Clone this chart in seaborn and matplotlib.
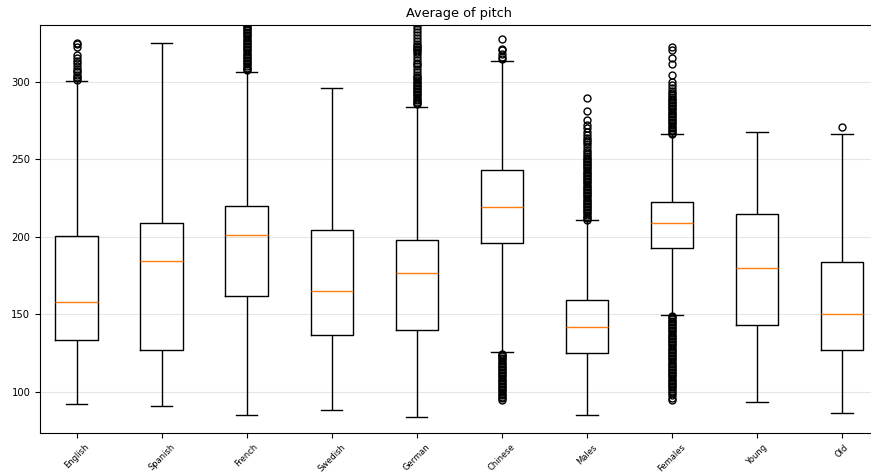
import numpy as np
import pandas as pd
import seaborn as sns
import matplotlib.pyplot as plt

# groups and box statistics
groups = ["English", "Spanish", "French", "Swedish", "German",
          "Chinese", "Males", "Females", "Young", "Old"]
whisker_lo = [92.1, 91.0, 84.9, 88.2, 83.7, 126.0, 84.9, 149.4, 93.4, 86.3]
q1 = [133.5, 127.0, 161.8, 136.7, 139.9, 196.0, 125.3, 193.0, 143.0, 126.8]
medians = [157.8, 184.5, 201.3, 165.2, 176.4, 219.1, 141.6, 208.6, 180.0, 150.5]
q3 = [200.4, 208.6, 219.6, 204.3, 197.9, 243.2, 159.5, 222.3, 214.6, 183.5]
whisker_hi = [300.2, 324.5, 306.0, 295.6, 283.7, 313.3, 210.5, 265.9, 267.6, 266.5]

# outliers (values beyond the whiskers)
english_out = [301, 302, 303, 304, 306, 307, 308, 310, 312, 313, 315, 317, 322, 324, 325]
spanish_out = []
french_out = [307.5, 308, 309, 310, 311, 312, 313, 314, 315, 316, 317, 318, 319,
              320, 321, 322, 323, 324, 325, 326, 327, 328, 329, 330, 331, 332,
              333, 334, 335, 336, 338, 340]
swedish_out = []
german_out = [285.5, 286, 287, 288, 289, 290, 291, 292, 293, 294, 295, 296, 297,
              298, 299, 300, 301, 302, 303, 304, 306, 308, 310, 311, 312, 314,
              316, 318, 319, 320, 321, 322, 323, 324, 326, 328, 330, 332, 334,
              336, 338]
chinese_out = [95, 96, 97, 98, 99, 100, 101, 102, 103, 104, 105, 106, 107, 108,
               109, 110, 111, 112, 113, 114, 115, 116, 117, 118, 119, 120, 121,
               122, 123, 124, 124.8,
               314.5, 316, 318, 320, 321, 327.5]
males_out = [211, 212, 213, 214, 215, 216, 217, 218, 219, 220, 221, 222, 223,
             224, 225, 226, 227, 228, 229, 230, 231, 232, 233, 234, 235, 236,
             237, 238, 239, 240, 241, 242, 243, 244, 245, 246, 247, 248, 249,
             250, 251, 252, 253, 254.7, 256, 258, 259.5, 261.2, 262.5, 263.6,
             265.5, 267.6, 269.8, 271.9, 275.1, 281, 289.1]
females_out = [94.7, 96, 98.3, 99.5, 100.5, 102, 103, 104, 105, 106, 107, 108,
               109, 110, 111, 112, 113, 114, 115, 116, 117, 118, 119, 120, 121,
               122, 123, 124, 125, 126, 127, 128, 129, 130, 131, 132, 133, 134,
               135, 136, 137, 138, 139, 140, 141, 142, 143, 144, 145, 146, 147,
               148, 148.8,
               266.5, 267, 268, 269, 270, 271, 272, 273, 274, 275, 276, 277, 278,
               279, 280, 281, 282, 283, 284, 285, 286, 287, 288, 289, 290, 291,
               292.3, 294, 295.5, 297.7, 299.8, 304.1, 311.2, 314.9, 320.5, 322.3]
young_out = []
old_out = [270.6]
outliers = [english_out, spanish_out, french_out, swedish_out, german_out,
            chinese_out, males_out, females_out, young_out, old_out]

# build a sample per group whose boxplot statistics equal the values above:
# whisker ends once, quartiles and median weighted heavily, plus the outliers
N = 500
rows = []
for i, g in enumerate(groups):
    vals = ([whisker_lo[i], whisker_hi[i]] + [q1[i]] * N + [medians[i]] * N
            + [q3[i]] * N + list(outliers[i]))
    rows.append(pd.DataFrame({"group": g, "pitch": vals}))
df = pd.concat(rows, ignore_index=True)

fig = plt.figure(figsize=(8.71, 4.72), dpi=100)
ax = fig.add_axes([0.0459, 0.0833, 0.963, 0.8634])

sns.boxplot(
    data=df, x="group", y="pitch", order=groups, ax=ax,
    width=0.5, fill=False, color="black", linewidth=1, whis=1.5,
    medianprops=dict(color="#ff7f0e", linewidth=1),
    flierprops=dict(marker="o", markersize=5, markerfacecolor="none",
                    markeredgecolor="black", markeredgewidth=1),
)

ax.set_xlim(-0.431, 9.431)
ax.set_ylim(73.8, 336.3)
ax.set_yticks([100, 150, 200, 250, 300])
ax.set_xlabel("")
ax.set_ylabel("")
ax.set_title("Average of pitch", fontsize=9.3)
ax.tick_params(axis="x", labelrotation=45, labelsize=6)
ax.tick_params(axis="y", labelsize=7.2)
ax.yaxis.grid(True, color="#e6e6e6", linewidth=0.8)
ax.set_axisbelow(True)

fig.savefig("out.png", dpi=100)
